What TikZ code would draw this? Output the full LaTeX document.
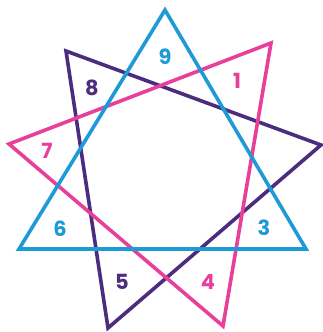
\documentclass[tikz,border=0pt]{standalone}
\usepackage{fontspec}
\setmainfont{Poppins}
\usetikzlibrary{calc}

\definecolor{starblue}{HTML}{1E9AD6}
\definecolor{starpurple}{HTML}{4B2C7F}
\definecolor{starpink}{HTML}{E8409A}

\begin{document}
\begin{tikzpicture}[
  x=1bp, y=-1bp,
  font=\fontsize{21}{21}\selectfont\bfseries,
  tri/.style={line width=3.6bp, line join=miter},
  num/.style={inner sep=0pt, anchor=center}
]
\useasboundingbox (0,0) rectangle (323,332);

% ---------- corners ----------
\coordinate (b1) at (165,10);
\coordinate (b2) at (19,249);
\coordinate (b3) at (306,249);
\coordinate (u1) at (66,51);
\coordinate (u2) at (321,145);
\coordinate (u3) at (108,328);
\coordinate (p1) at (271,43);
\coordinate (p2) at (9,144);
\coordinate (p3) at (223,326);

% ---------- triangles ----------
\draw[tri, starpurple] (u1) -- (u2) -- (u3) -- cycle;
\draw[tri, starpink]   (p1) -- (p2) -- (p3) -- cycle;
\draw[tri, starblue]   (b1) -- (b2) -- (b3) -- cycle;

% ---------- numbers ----------
\node[num, starblue]   (n9) at (165,57)  {9};
\node[num, starpink]   (n1) at (237,81)  {1};
\node[num, starpurple] (n8) at (92,88)   {8};
\node[num, starpink]   (n7) at (47,151)  {7};
\node[num, starblue]   (n6) at (60,229)  {6};
\node[num, starblue]   (n3) at (264,228) {3};
\node[num, starpurple] (n5) at (122,282) {5};
\node[num, starpink]   (n4) at (208,282) {4};

\end{tikzpicture}
\end{document}
